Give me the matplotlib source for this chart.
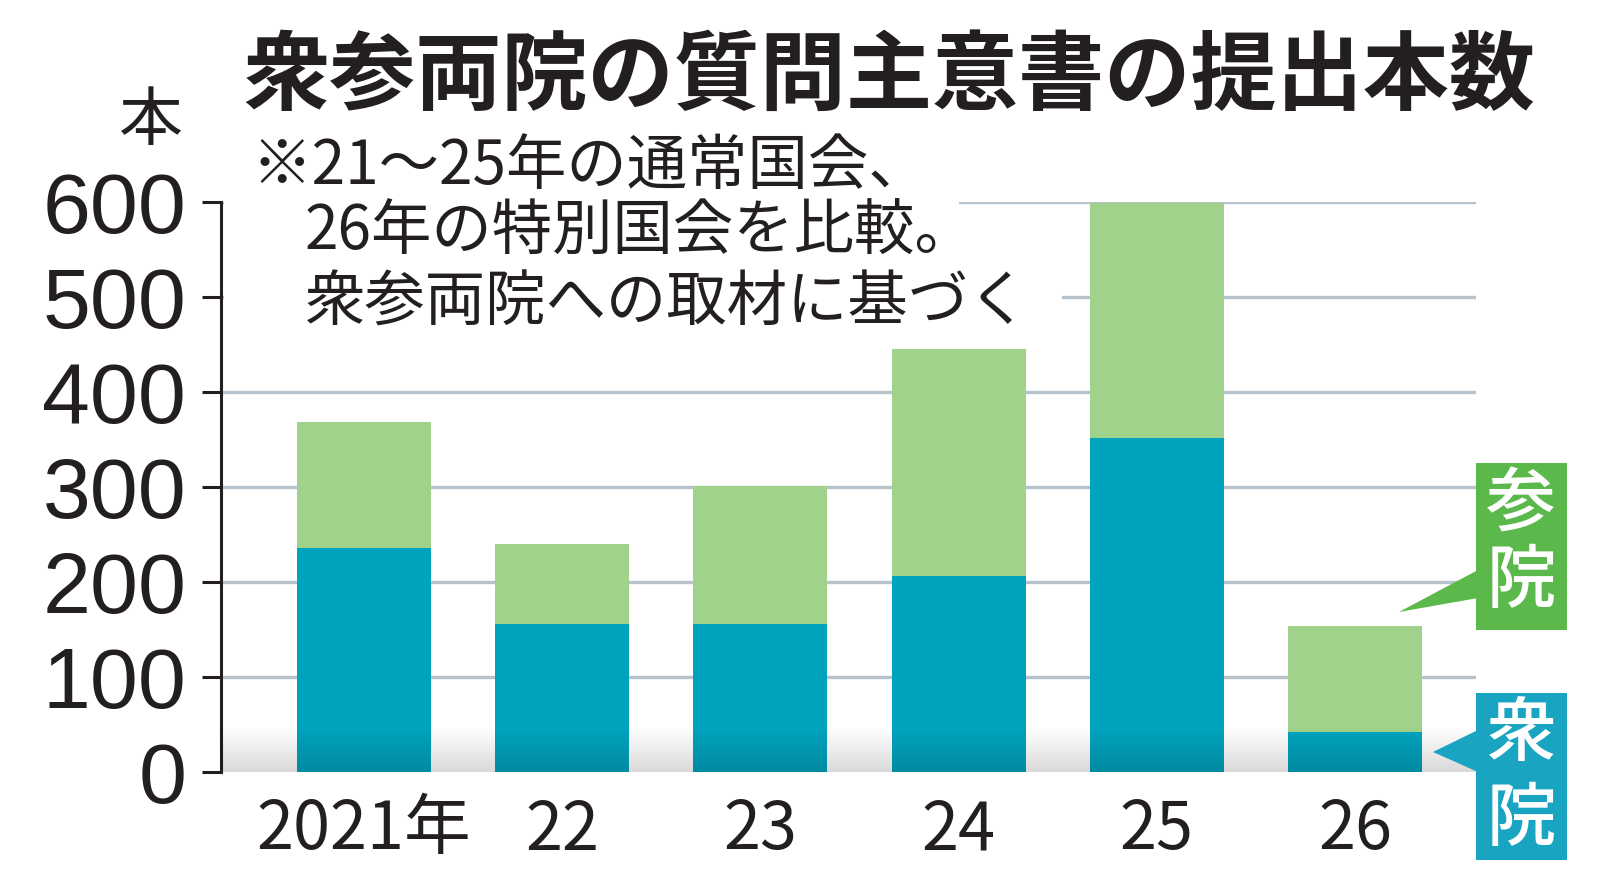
import numpy as np
import matplotlib
matplotlib.use('Agg')
import matplotlib.pyplot as plt
from matplotlib.patches import Rectangle, Polygon

# データ
years = ['2021年', '22', '23', '24', '25', '26']
shugiin = [236, 156, 156, 206, 352, 42]     # 衆院
sangiin = [132, 84, 145, 239, 247, 112]     # 参院（積み上げ分）
yticks = [0, 100, 200, 300, 400, 500, 600]

teal = '#00A3BE'
green = '#A1D28B'
grid_c = '#B6C2CC'

W, H = 1600, 894
fig = plt.figure(figsize=(W / 100, H / 100), dpi=100)
fig.patch.set_facecolor('white')


def px(x, y):
    # 画像のピクセル座標 -> figure座標
    return (x / W, 1 - y / H)


ax = fig.add_axes([221 / W, (H - 772) / H, (1476 - 221) / W, 570 / H])
x = np.arange(len(years))
ax.bar(x, shugiin, width=0.677, color=teal, zorder=2)
ax.bar(x, sangiin, width=0.677, bottom=shugiin, color=green, zorder=2)

ax.set_xlim(-0.722, 5.611)
ax.set_ylim(0, 600)
ax.set_yticks(yticks)
ax.set_yticklabels([str(v) for v in yticks], family='Liberation Sans', fontsize=62)
ax.set_xticks(x)
ax.set_xticklabels(years, family=['Noto Sans CJK JP', 'DejaVu Sans'], fontsize=48)
ax.tick_params(axis='y', length=14, width=2.2, pad=11, colors='#231F20')
ax.tick_params(axis='x', length=0, pad=18, colors='#231F20')
for s in ['top', 'right', 'bottom']:
    ax.spines[s].set_visible(False)
ax.spines['left'].set_linewidth(2.2)
ax.spines['left'].set_color('#231F20')
ax.spines['left'].set_capstyle('projecting')
for v in yticks[1:]:
    ax.axhline(v, color=grid_c, lw=2.4, zorder=0)

# 下部の影（グラデーション）
grad = np.zeros((50, 1, 4))
grad[:, 0, 3] = np.linspace(0.15, 0.0, 50)
ax.imshow(grad, extent=(-0.722, 5.611, 0, 48), origin='lower', aspect='auto',
          zorder=3, interpolation='bilinear')
ax.set_xlim(-0.722, 5.611)
ax.set_ylim(0, 600)

# 注記の背景（目盛線を隠す）
fig.patches.append(Rectangle(px(224, 212), (959 - 224) / W, 20 / H, facecolor='white',
                             edgecolor='none', transform=fig.transFigure, figure=fig))
fig.patches.append(Rectangle(px(224, 307), (1062 - 224) / W, 20 / H, facecolor='white',
                             edgecolor='none', transform=fig.transFigure, figure=fig))

# タイトル・注記
fig.text(*px(243, 78), '衆参両院の質問主意書の提出本数', family='Noto Sans CJK JP',
         fontweight='bold', fontsize=62, color='#231F20', va='center', ha='left')
fig.text(*px(183, 122), '本', family='Noto Sans CJK JP', fontsize=46,
         color='#231F20', va='center', ha='right')
fig.text(*px(252, 167), '※21～25年の通常国会、', family='Noto Sans CJK JP',
         fontsize=43.5, color='#231F20', va='center', ha='left')
fig.text(*px(305, 233), '26年の特別国会を比較。', family='Noto Sans CJK JP',
         fontsize=43.5, color='#231F20', va='center', ha='left')
fig.text(*px(305, 303), '衆参両院への取材に基づく', family='Noto Sans CJK JP',
         fontsize=43.5, color='#231F20', va='center', ha='left')

# 凡例ラベル（吹き出し）
lab_green = '#5BB84A'
lab_teal = '#19A4C2'
fig.patches.append(Polygon([px(1399, 612), px(1478, 570), px(1478, 598)],
                           closed=True, facecolor=lab_green, edgecolor='none',
                           transform=fig.transFigure, figure=fig))
fig.patches.append(Rectangle(px(1476, 630), 91 / W, 167 / H, facecolor=lab_green,
                             edgecolor='none', transform=fig.transFigure, figure=fig))
fig.patches.append(Polygon([px(1433, 752), px(1478, 730), px(1478, 772)],
                           closed=True, facecolor=lab_teal, edgecolor='none',
                           transform=fig.transFigure, figure=fig))
fig.patches.append(Rectangle(px(1476, 860), 91 / W, 167 / H, facecolor=lab_teal,
                             edgecolor='none', transform=fig.transFigure, figure=fig))
for ch, yy in [('参', 505), ('院', 582), ('衆', 735), ('院', 820)]:
    fig.text(*px(1521, yy), ch, family='Noto Sans CJK JP', fontweight='medium',
             fontsize=50, color='white', va='center', ha='center')

fig.savefig('out.png', dpi=100, facecolor='white')
